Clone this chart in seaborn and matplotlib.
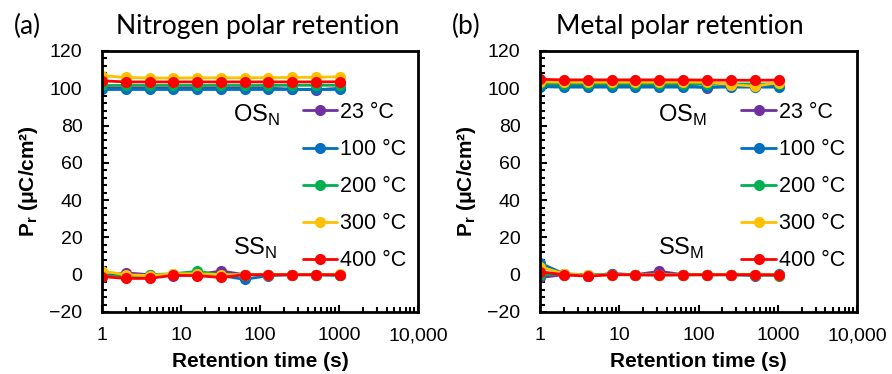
import numpy as np
import pandas as pd
import matplotlib
matplotlib.use("Agg")
import matplotlib.pyplot as plt
import matplotlib.ticker as mticker
import seaborn as sns

# -----------------------------------------
# Data
# -----------------------------------------
times = [1, 2, 4, 8, 16, 32, 64, 128, 256, 512, 1024]
temps = ["23 °C", "100 °C", "200 °C", "300 °C", "400 °C"]
colors = ["#7030A0", "#0070C0", "#00B050", "#FFC000", "#FF0000"]

# panel (a): nitrogen polar
os_n_23 = [100.2, 100.0, 100.0, 100.0, 100.0, 100.0, 100.0, 100.0, 99.6, 99.2, 100.0]
os_n_100 = [99.5, 99.5, 99.5, 99.5, 99.5, 99.5, 99.5, 99.5, 99.5, 99.5, 99.5]
os_n_200 = [101.5, 101.5, 101.5, 101.5, 101.5, 101.5, 101.5, 101.5, 101.6, 101.6, 101.6]
os_n_300 = [106.8, 105.8, 105.5, 105.5, 105.6, 105.6, 105.6, 105.7, 105.8, 105.9, 106.2]
os_n_400 = [104.0, 103.4, 103.4, 103.4, 103.4, 103.4, 103.4, 103.4, 103.4, 103.4, 103.5]
ss_n_23 = [-0.5, 1.0, 0.0, -0.5, 0.0, 2.0, 0.0, 0.0, 0.0, 0.0, 0.0]
ss_n_100 = [-0.5, -1.5, -1.0, 0.0, 0.0, -0.5, -2.5, -0.5, 0.0, 0.0, -0.3]
ss_n_200 = [-0.5, -1.0, 0.0, 0.5, 1.8, 0.0, 0.0, 0.0, 0.0, 0.0, -0.3]
ss_n_300 = [2.0, 0.0, -0.5, 0.5, 0.5, 0.0, 0.0, 0.0, 0.0, 0.0, 0.2]
ss_n_400 = [-1.0, -2.0, -2.0, -0.3, -0.5, -1.5, 0.0, 0.0, 0.0, 0.0, 0.0]

# panel (b): metal polar
os_m_23 = [101.5, 101.5, 101.5, 101.5, 101.5, 101.5, 101.5, 100.3, 101.3, 101.3, 101.5]
os_m_100 = [100.8, 100.6, 100.6, 100.6, 100.6, 100.6, 100.6, 100.6, 100.6, 100.6, 100.6]
os_m_200 = [102.4, 102.3, 102.3, 102.3, 102.3, 102.3, 102.3, 102.3, 102.3, 102.3, 102.3]
os_m_300 = [103.5, 103.3, 103.3, 103.3, 103.3, 103.3, 103.4, 103.2, 102.0, 101.1, 103.0]
os_m_400 = [104.8, 104.5, 104.5, 104.5, 104.5, 104.5, 104.5, 104.4, 104.3, 104.3, 104.4]
ss_m_23 = [-1.5, 0.0, -0.5, 0.5, 0.0, 1.8, 0.0, 0.0, 0.0, 0.0, 0.0]
ss_m_100 = [6.3, 0.5, -0.5, 0.5, 0.0, 0.0, 0.0, 0.0, 0.0, -0.5, 0.3]
ss_m_200 = [0.0, 0.5, 0.0, 0.0, 0.0, 0.0, 0.0, 0.0, 0.0, 0.0, -0.5]
ss_m_300 = [4.3, 0.5, -0.3, 0.0, 0.0, 0.0, 0.0, 0.0, 0.0, 0.0, 0.0]
ss_m_400 = [1.6, 0.0, -0.8, 0.0, 0.0, -0.3, 0.0, 0.0, 0.0, 0.0, -0.2]


def build_frame(os_list, ss_list):
    rows = []
    for temp, os_vals, ss_vals in zip(temps, os_list, ss_list):
        for branch, vals in (("OS", os_vals), ("SS", ss_vals)):
            for t, v in zip(times, vals):
                rows.append({"time": t, "pr": v, "temp": temp, "branch": branch})
    return pd.DataFrame(rows)


def time_label(v, pos):
    # Excel-style: comma only from 10,000 up
    return f"{v:,.0f}" if v >= 10000 else f"{v:.0f}"


df_a = build_frame(
    [os_n_23, os_n_100, os_n_200, os_n_300, os_n_400],
    [ss_n_23, ss_n_100, ss_n_200, ss_n_300, ss_n_400],
)
df_b = build_frame(
    [os_m_23, os_m_100, os_m_200, os_m_300, os_m_400],
    [ss_m_23, ss_m_100, ss_m_200, ss_m_300, ss_m_400],
)

# -----------------------------------------
# Plot
# -----------------------------------------
sns.set_style("white")
plt.rcParams["font.family"] = ["Liberation Sans", "DejaVu Sans"]
plt.rcParams["mathtext.fontset"] = "custom"
plt.rcParams["mathtext.rm"] = "Liberation Sans"
plt.rcParams["text.color"] = "black"
plt.rcParams["axes.labelcolor"] = "black"

fig = plt.figure(figsize=(8.92, 3.74), dpi=100)
ax_a = fig.add_axes([0.1143, 0.1658, 0.3543, 0.6979])
ax_b = fig.add_axes([0.6054, 0.1658, 0.3554, 0.6979])

panels = [
    (ax_a, df_a, "N", "(a)", "Nitrogen polar retention", 0.016, 0.289, 0.415),
    (ax_b, df_b, "M", "(b)", "Metal polar retention", 0.507, 0.762, 0.372),
]

for ax, df, sub, tag, title, tag_x, title_x, note_x in panels:
    sns.lineplot(
        data=df, x="time", y="pr", hue="temp", units="branch",
        estimator=None, hue_order=temps, palette=colors,
        marker="o", markersize=8, markeredgewidth=0, linewidth=2,
        sort=False, ax=ax,
    )

    ax.set_xscale("log")
    ax.set_xlim(1, 10000)
    ax.set_ylim(-20, 120)
    ax.xaxis.set_major_locator(mticker.FixedLocator([1, 10, 100, 1000, 10000]))
    ax.xaxis.set_minor_locator(mticker.LogLocator(base=10, subs=np.arange(2, 10), numticks=20))
    ax.xaxis.set_major_formatter(mticker.FuncFormatter(time_label))
    ax.xaxis.set_minor_formatter(mticker.NullFormatter())
    ax.yaxis.set_major_locator(mticker.MultipleLocator(20))
    ax.yaxis.set_minor_locator(mticker.MultipleLocator(4))

    ax.tick_params(which="both", direction="in", width=1.5, colors="black",
                   labelsize=14, top=False, right=False, left=True, bottom=True)
    ax.tick_params(which="major", length=5)
    ax.tick_params(which="minor", length=3.5)
    ax.tick_params(axis="x", which="major", pad=11)
    ax.tick_params(axis="y", which="major", pad=14)

    for spine in ax.spines.values():
        spine.set_linewidth(2)
        spine.set_color("black")

    ax.set_xlabel("Retention time (s)", fontsize=15, fontweight="bold")
    ax.set_ylabel(r"P$_\mathregular{r}$ ($\mathregular{\mu}$C/cm²)", fontsize=15,
                  fontweight="bold")
    ax.xaxis.set_label_coords(0.5, -0.155)
    ax.yaxis.set_label_coords(-0.195, 0.5)

    ax.text(note_x, 0.728, rf"OS$_\mathregular{{{sub}}}$",
            transform=ax.transAxes, fontsize=17, va="baseline")
    ax.text(note_x, 0.218, rf"SS$_\mathregular{{{sub}}}$",
            transform=ax.transAxes, fontsize=17, va="baseline")

    ax.legend(
        loc="center left", bbox_to_anchor=(0.635, 0.48), frameon=False,
        fontsize=15.5, handlelength=1.6, handletextpad=0.15,
        labelspacing=0.75, borderpad=0, borderaxespad=0,
    )

    fig.text(tag_x, 0.928, tag, fontsize=19, family="Lato", va="center")
    fig.text(title_x, 0.928, title, fontsize=19, family="Lato", va="center",
             ha="center")

fig.savefig("out.png", dpi=100)
